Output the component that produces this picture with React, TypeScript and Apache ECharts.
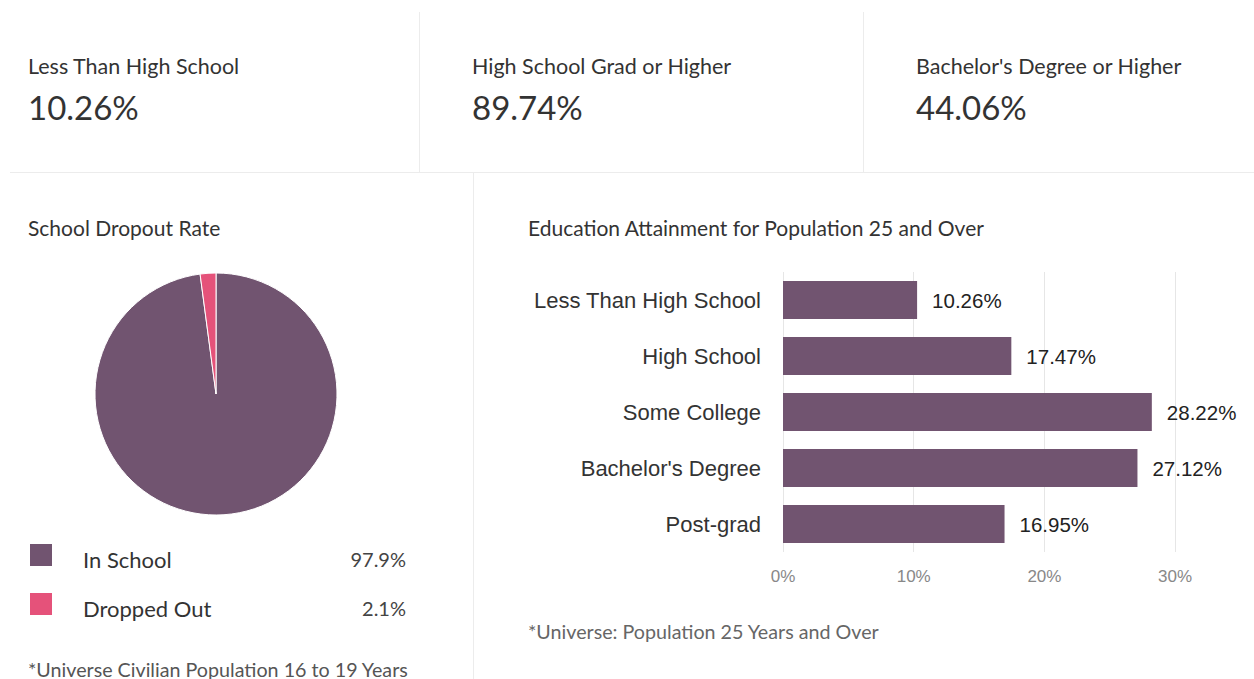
import React, { useEffect, useRef } from "react";
import * as echarts from "echarts";

const cardTitles = ["Less Than High School", "High School Grad or Higher", "Bachelor's Degree or Higher"];
const cardValues = ["10.26%", "89.74%", "44.06%"];

const pieNames = ["In School", "Dropped Out"];
const pieValues = [97.9, 2.1];
const pieColors = ["#715470", "#e5527a"];

const barCategories = ["Less Than High School", "High School", "Some College", "Bachelor's Degree", "Post-grad"];
const barValues = [10.26, 17.47, 28.22, 27.12, 16.95];
const xTicks = [0, 10, 20, 30];

const UI_FONT = "Lato, 'Open Sans', sans-serif";
const CHART_FONT = "'Liberation Sans', Arial, sans-serif";

export default function App() {
  const ref = useRef<HTMLDivElement>(null);
  useEffect(() => {
    if (!ref.current) return;
    const chart = echarts.init(ref.current, undefined, { renderer: "svg" });
    const cardX = [28, 472, 916];
    const graphics: any[] = [];
    const txt = (x: number, y: number, text: string, size: number, fill: string) => ({
      type: "text",
      x,
      y,
      style: { text, font: `400 ${size}px ${UI_FONT}`, fill, align: "left", verticalAlign: "middle" },
    });
    cardTitles.forEach((t, i) => {
      graphics.push(txt(cardX[i], 65.5, t, 21.5, "#333"));
      graphics.push(txt(cardX[i], 107, cardValues[i], 33, "#333"));
    });
    const lineStyle = { stroke: "#ececec", lineWidth: 1 };
    graphics.push({ type: "line", shape: { x1: 10, y1: 172.5, x2: 1254, y2: 172.5 }, style: lineStyle });
    graphics.push({ type: "line", shape: { x1: 419.5, y1: 12, x2: 419.5, y2: 172 }, style: lineStyle });
    graphics.push({ type: "line", shape: { x1: 863.5, y1: 12, x2: 863.5, y2: 172 }, style: lineStyle });
    graphics.push({ type: "line", shape: { x1: 473.5, y1: 173, x2: 473.5, y2: 679 }, style: lineStyle });
    graphics.push(txt(28, 227.5, "School Dropout Rate", 21, "#333"));
    graphics.push(txt(528, 227.5, "Education Attainment for Population 25 and Over", 21, "#333"));
    graphics.push(txt(28, 669, "*Universe Civilian Population 16 to 19 Years", 19.7, "#555"));
    graphics.push(txt(528, 631, "*Universe: Population 25 Years and Over", 19.7, "#666"));

    chart.setOption({
      animation: false,
      backgroundColor: "#fff",
      graphic: graphics,
      legend: {
        orient: "vertical",
        left: 28,
        top: 542,
        padding: 0,
        itemWidth: 24,
        itemHeight: 24,
        itemGap: 21,
        icon: "rect",
        selectedMode: false,
        data: pieNames,
        formatter: (name: string) => {
          const idx = pieNames.indexOf(name);
          return `{s|}{n|${name}}{v|${pieValues[idx]}%}`;
        },
        textStyle: {
          rich: {
            s: { width: 25, padding: [8, 0, 0, 0] },
            n: { width: 250, fontSize: 22, fontFamily: UI_FONT, color: "#333", padding: [8, 0, 0, 0] },
            v: { width: 73, align: "right", fontSize: 20, fontFamily: UI_FONT, color: "#444", padding: [8, 0, 0, 0] },
          },
        },
      },
      grid: { left: 783, top: 272, width: xTicks[xTicks.length - 1] * 13.07, height: 280 },
      xAxis: {
        type: "value",
        min: xTicks[0],
        max: xTicks[xTicks.length - 1],
        interval: 10,
        axisLine: { show: false },
        axisTick: { show: false },
        splitLine: { lineStyle: { color: "#e6e6e6" } },
        axisLabel: { formatter: "{value}%", color: "#888", fontSize: 17, fontFamily: CHART_FONT, margin: 16 },
      },
      yAxis: {
        type: "category",
        inverse: true,
        data: barCategories,
        axisLine: { show: false },
        axisTick: { show: false },
        axisLabel: { color: "#333", fontSize: 22, fontFamily: CHART_FONT, margin: 22 },
      },
      series: [
        {
          type: "pie",
          center: [216, 394],
          radius: 121,
          startAngle: 90,
          clockwise: true,
          silent: true,
          label: { show: false },
          labelLine: { show: false },
          itemStyle: { borderColor: "#fff", borderWidth: 1 },
          data: pieNames.map((n, i) => ({ name: n, value: pieValues[i], itemStyle: { color: pieColors[i] } })),
        },
        {
          type: "bar",
          data: barValues,
          barCategoryGap: "32%",
          silent: true,
          itemStyle: { color: "#715470" },
          label: {
            show: true,
            position: "right",
            distance: 15,
            formatter: "{c}%",
            fontSize: 20.5,
            fontFamily: CHART_FONT,
            color: "#222",
          },
        },
      ],
    });
    return () => chart.dispose();
  }, []);
  return <div ref={ref} style={{ position: "fixed", left: 0, top: 0, width: 1254, height: 679 }} />;
}
